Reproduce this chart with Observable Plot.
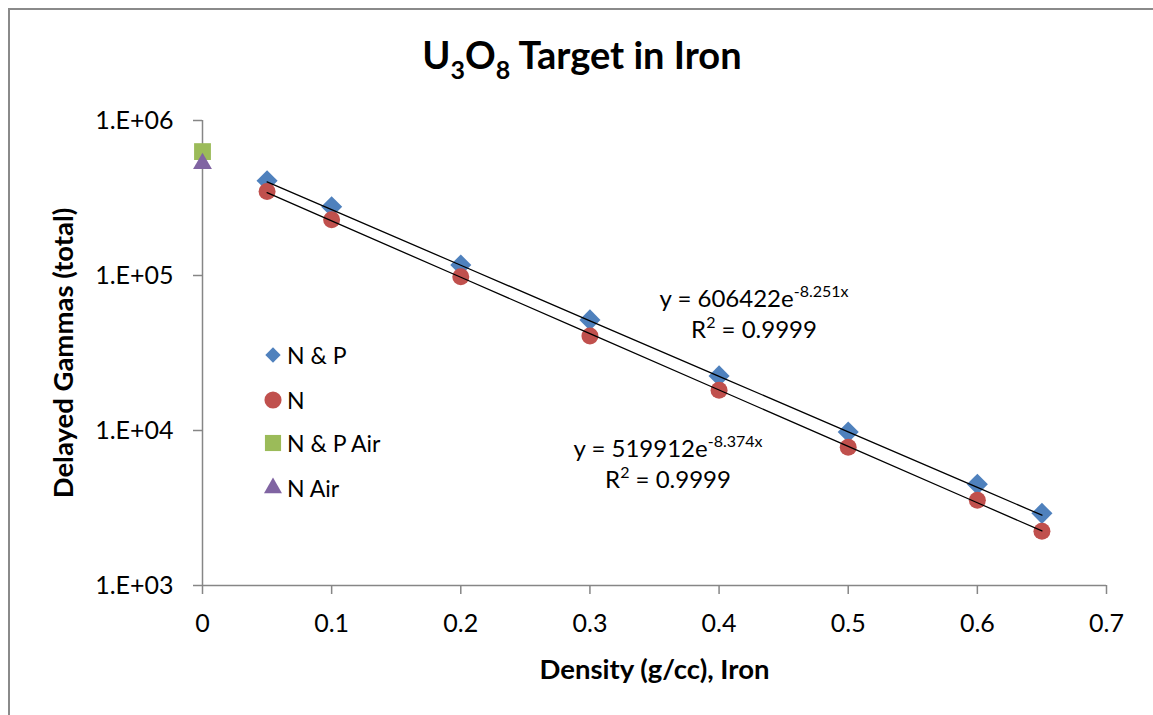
<!DOCTYPE html>
<html><head><meta charset="utf-8">
<script src="https://cdn.jsdelivr.net/npm/d3@7"></script>
<script src="https://cdn.jsdelivr.net/npm/@observablehq/plot@0.6"></script>
<style>
body{margin:0;background:#fff;font-family:Lato,sans-serif;}
#wrap{position:relative;width:1153px;height:715px;overflow:hidden;background:#fff;}
#frame{position:absolute;left:8px;top:8px;width:1300px;height:900px;border:2px solid #8a8a8a;box-sizing:border-box;pointer-events:none;}
#title{position:relative;height:95px;}
#title div{position:absolute;left:282px;width:600px;top:35px;text-align:center;font-weight:bold;font-size:38px;line-height:38px;color:#000;}
.sub{font-size:25px;vertical-align:-10px;line-height:0;}
#chart{position:relative;}
.eq{position:absolute;width:320px;text-align:center;font-size:24px;line-height:31px;color:#000;}
.sup{font-size:16px;vertical-align:10px;line-height:0;}
.leg{position:absolute;left:261px;height:30px;display:flex;align-items:center;font-size:23px;color:#000;}
.leg svg{width:24px;height:24px;margin-right:2px;}
g[aria-label="y-axis label"]{font-weight:bold;font-size:27.5px;}
g[aria-label="x-axis label"]{font-weight:bold;font-size:27.5px;}
</style></head>
<body>
<div id="wrap">
  <div id="frame"></div>
  <div id="title"><div>U<span class="sub">3</span>O<span class="sub">8</span> Target in Iron</div></div>
  <div id="chart"></div>
  <div class="eq" style="left:594px;top:282px;">y = 606422e<span class="sup">-8.251x</span><br>R<span class="sup">2</span> = 0.9999</div>
  <div class="eq" style="left:508px;top:432px;">y = 519912e<span class="sup">-8.374x</span><br>R<span class="sup">2</span> = 0.9999</div>
  <div id="legend"></div>
</div>
<script>
// Data
const density = [0.05, 0.1, 0.2, 0.3, 0.4, 0.5, 0.6, 0.65];
const gammasNP = [409000, 278000, 117000, 51700, 22500, 9770, 4500, 2920];
const gammasN = [348000, 229000, 98000, 40700, 18200, 7800, 3550, 2240];
const airDensity = [0];
const gammasNPAir = [630000];
const gammasNAir = [527000];
// Exponential trendline fits shown on the chart
const fitNP = {a: 606422, b: -8.251};
const fitN = {a: 519912, b: -8.374};
const xTicks = [0, 0.1, 0.2, 0.3, 0.4, 0.5, 0.6, 0.7];
const yTicks = [1e3, 1e4, 1e5, 1e6];
const seriesNames = ["N & P", "N", "N & P Air", "N Air"];
const seriesColors = ["#4F81BD", "#C0504D", "#9BBB59", "#8064A2"];

const np = density.map((x, i) => ({x, y: gammasNP[i]}));
const n = density.map((x, i) => ({x, y: gammasN[i]}));
const npAir = airDensity.map((x, i) => ({x, y: gammasNPAir[i]}));
const nAir = airDensity.map((x, i) => ({x, y: gammasNAir[i]}));
const trendNP = density.map(x => ({x, y: fitNP.a * Math.exp(fitNP.b * x)}));
const trendN = density.map(x => ({x, y: fitN.a * Math.exp(fitN.b * x)}));

const axisGray = "#868686";
const chart = Plot.plot({
  width: 1153, height: 620,
  marginTop: 25, marginBottom: 130, marginLeft: 202, marginRight: 47,
  style: {fontFamily: "Lato, sans-serif", fontSize: "25px", color: "#000", background: "transparent", overflow: "visible"},
  x: {domain: [0, 0.7]},
  y: {type: "log", domain: [1e3, 1e6]},
  marks: [
    Plot.ruleX([0], {stroke: axisGray, strokeWidth: 1.5}),
    Plot.ruleY([1e3], {stroke: axisGray, strokeWidth: 1.5}),
    Plot.axisX({ticks: xTicks, tickSize: 9, tickPadding: 20, stroke: axisGray, strokeWidth: 1.5, fill: "#000",
      tickFormat: d => String(+d.toFixed(1)),
      label: "Density (g/cc), Iron", labelAnchor: "center", labelOffset: 93, labelArrow: "none"}),
    Plot.axisY({ticks: yTicks, tickSize: 9, tickPadding: 20, stroke: axisGray, strokeWidth: 1.5, fill: "#000",
      tickFormat: d => "1.E+" + String(Math.round(Math.log10(d))).padStart(2, "0"),
      label: "Delayed Gammas (total)", labelAnchor: "center", labelOffset: 149, labelArrow: "none"}),
    Plot.dot(np, {x: "x", y: "y", symbol: "diamond2", r: 9.5, fill: seriesColors[0], stroke: "none"}),
    Plot.dot(n, {x: "x", y: "y", symbol: "circle", r: 8.5, fill: seriesColors[1], stroke: "none"}),
    Plot.dot(npAir, {x: "x", y: "y", symbol: "square", r: 9.5, fill: seriesColors[2], stroke: "none"}),
    Plot.dot(nAir, {x: "x", y: "y", symbol: "triangle", r: 7, fill: seriesColors[3], stroke: "none"}),
    Plot.line(trendNP, {x: "x", y: "y", stroke: "#000", strokeWidth: 1.3}),
    Plot.line(trendN, {x: "x", y: "y", stroke: "#000", strokeWidth: 1.3})
  ]
});
document.getElementById("chart").appendChild(chart);

// Legend (inside plot area, HTML overlay)
const legendY = [355, 400, 443, 488];
const legendSymbols = [d3.symbolDiamond2, d3.symbolCircle, d3.symbolSquare, d3.symbolTriangle];
const legendSizes = [150, 230, 260, 140];
const leg = document.getElementById("legend");
seriesNames.forEach((name, i) => {
  const row = document.createElement("div");
  row.className = "leg";
  row.style.top = (legendY[i] - 15) + "px";
  const path = d3.symbol(legendSymbols[i], legendSizes[i])();
  row.innerHTML = `<svg viewBox="-12 -12 24 24"><path d="${path}" fill="${seriesColors[i]}"/></svg><span>${name.replace(/&/g, "&amp;")}</span>`;
  leg.appendChild(row);
});
</script>
</body></html>
